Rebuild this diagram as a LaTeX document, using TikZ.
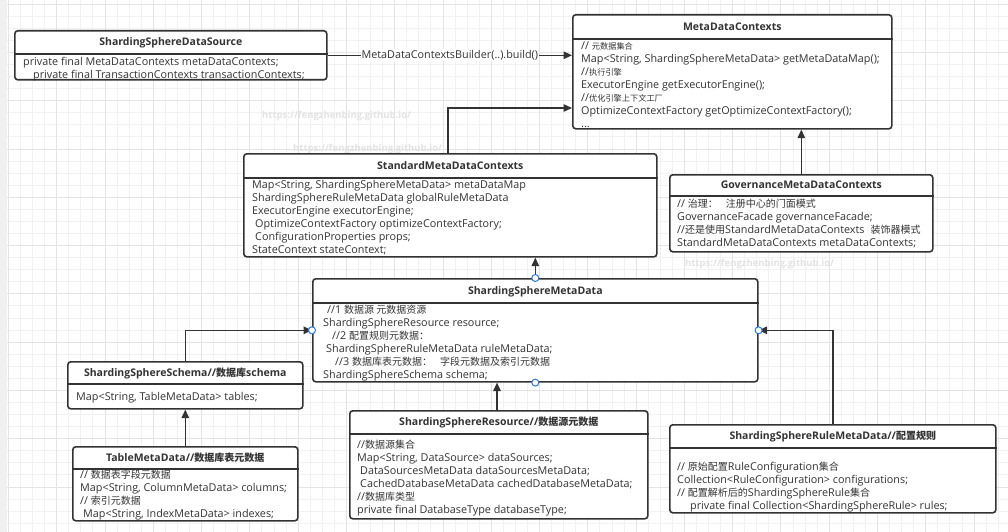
\documentclass[tikz,border=0pt]{standalone}
\usepackage{fontspec}
\setmainfont{Open Sans}
\newfontfamily\cjkf{Noto Sans CJK SC}
\usetikzlibrary{arrows.meta,calc}
\definecolor{ink}{HTML}{333333}
\definecolor{hblue}{HTML}{2979E6}
\definecolor{gminor}{HTML}{F1F1F1}
\definecolor{gmajor}{HTML}{E4E4E4}
\newcommand\zh[1]{{\cjkf\fontsize{10pt}{13pt}\selectfont #1}}
\newcommand\zhs[1]{{\cjkf\fontsize{8.2pt}{13pt}\selectfont #1}}
\newcommand\bodyf{\fontsize{10.8pt}{13pt}\selectfont}
\newcommand\titlef{\fontsize{10.5pt}{13pt}\selectfont\bfseries}
\tikzset{
 umlbox/.style={draw=ink, line width=1.6pt, rounded corners=3pt, fill=white, inner sep=0pt, anchor=north west},
 sepline/.style={draw=ink, line width=1.4pt},
 titletext/.style={font=\titlef, text=ink, inner sep=0pt, text height=7.5pt, text depth=0pt},
 bodytext/.style={font=\bodyf, text=ink, inner sep=0pt, align=left, anchor=north west},
 conn/.style={draw=ink, line width=1.4pt, -{Triangle[length=8.5pt,width=7.5pt]}},
 handle/.style={circle, draw=hblue, fill=white, line width=1pt, minimum size=7pt, inner sep=0pt},
 wmark/.style={font=\fontsize{9.5pt}{11pt}\selectfont\bfseries, text=gray!22, inner sep=0pt, anchor=west},
 elabel/.style={font=\bodyf, text=ink, fill=white, inner sep=1pt},
}
% name, x, y, w, h, header height, body top-left, title, body
\newcommand\umlbox[9]{%
 \node[umlbox, minimum width=#4pt, minimum height=#5pt] (#1) at (#2,#3) {};
 \draw[sepline] ($(#1.north west)+(0,#6)$) -- ($(#1.north east)+(0,#6)$);
 \node[titletext] (#1-title) at ($(#1.north)+(0,#6/2)$) {#8};
 \node[bodytext] (#1-body) at (#7) {\strut #9};
}
\begin{document}
\begin{tikzpicture}[x=1pt,y=-1pt]
\useasboundingbox (0,0) rectangle (1008,532);
\fill[white] (0,0) rectangle (1008,532);
% grid
\foreach \k in {0,...,83} \draw[gminor, line width=0.6pt] ({8.3+12.07*\k},0) -- ({8.3+12.07*\k},532);
\foreach \k in {0,...,44} \draw[gminor, line width=0.6pt] (0,{4+12.07*\k}) -- (1008,{4+12.07*\k});
\foreach \k in {0,...,20} \draw[gmajor, line width=0.6pt] ({8.3+48.28*\k},0) -- ({8.3+48.28*\k},532);
\foreach \k in {0,...,11} \draw[gmajor, line width=0.6pt] (0,{4+48.28*\k}) -- (1008,{4+48.28*\k});
\fill[gray!12] (0,0) rectangle (7,532);
% watermarks
\node[wmark] (w1) at (262,116) {https://fengzhenbing.github.io/};
\node[wmark] (w2) at (293,149) {https://fengzhenbing.github.io/};
\node[wmark] (w3) at (685,264) {https://fengzhenbing.github.io/};
% boxes
\umlbox{ds}{14}{30}{312}{49}{24}{23,56}{ShardingSphereDataSource}{%
private final MetaDataContexts metaDataContexts;\\
\hspace*{10pt}private final TransactionContexts transactionContexts;}
\umlbox{mdc}{572}{14}{319}{114}{25}{581,39.8}{MetaDataContexts}{%
// \zhs{元数据集合}\\
Map<String, ShardingSphereMetaData> getMetaDataMap();\\
//\zhs{执行引擎}\\
ExecutorEngine getExecutorEngine();\\
//\zhs{优化引擎上下文工厂}\\
OptimizeContextFactory getOptimizeContextFactory();\\
...}
\umlbox{std}{243}{153}{413}{103}{25}{252,179.6}{StandardMetaDataContexts}{%
Map<String, ShardingSphereMetaData> metaDataMap\\
ShardingSphereRuleMetaData globalRuleMetaData\\
ExecutorEngine executorEngine;\\
\hspace*{3pt}OptimizeContextFactory optimizeContextFactory;\\
\hspace*{3pt}ConfigurationProperties props;\\
StateContext stateContext;}
\umlbox{gov}{669}{174}{263}{77}{22}{677,198.6}{GovernanceMetaDataContexts}{%
// \zh{治理：\hspace{8pt}注册中心的门面模式}\\
GovernanceFacade governanceFacade;\\
//\zh{还是使用}StandardMetaDataContexts\hspace{6pt}\zh{装饰器模式}\\
StandardMetaDataContexts metaDataContexts;}
\umlbox{ssm}{312}{278}{445}{103}{25}{323,304.6}{ShardingSphereMetaData}{%
\hspace*{4pt}//1 \zh{数据源 元数据资源}\\
ShardingSphereResource resource;\\
\hspace*{9pt}//2 \zh{配置规则元数据：}\\
\hspace*{3pt}ShardingSphereRuleMetaData ruleMetaData;\\
\hspace*{12pt}//3 \zh{数据库表元数据：\hspace{8pt}字段元数据及索引元数据}\\
ShardingSphereSchema schema;}
\umlbox{sch}{67}{361}{235}{47}{23}{76,391}{ShardingSphereSchema//\zh{数据库}schema}{%
Map<String, TableMetaData> tables;}
\umlbox{tbl}{72}{446}{225}{74}{23}{80,469}{TableMetaData//\zh{数据库表元数据}}{%
// \zh{数据表字段元数据}\\
Map<String, ColumnMetaData> columns;\\
// \zh{索引元数据}\\
\hspace*{3pt}Map<String, IndexMetaData> indexes;}
\umlbox{res}{349}{410}{298}{108}{24}{357,439.6}{ShardingSphereResource//\zh{数据源元数据}}{%
//\zh{数据源集合}\\
Map<String, DataSource> dataSources;\\
\hspace*{3pt}DataSourcesMetaData dataSourcesMetaData;\\
\hspace*{3pt}CachedDatabaseMetaData cachedDatabaseMetaData;\\
//\zh{数据库类型}\\
private final DatabaseType databaseType;}
\umlbox{rule}{669}{424}{326}{88}{24}{677,461.6}{ShardingSphereRuleMetaData//\zh{配置规则}}{%
// \zh{原始配置}RuleConfiguration\zh{集合}\\
Collection<RuleConfiguration> configurations;\\
// \zh{配置解析后的}ShardingSphereRule\zh{集合}\\
\hspace*{13pt}private final Collection<ShardingSphereRule> rules;}
% connectors
\coordinate (stdtop) at ($(std.north west)+(205,0)$);
\coordinate (mdcin) at ($(mdc.north west)+(0,94)$);
\coordinate (restop) at ($(res.north west)+(148,0)$);
\draw[conn] (ds.east) -- node[elabel] (lbl) {MetaDataContextsBuilder(..).build()} (ds.east -| mdc.west);
\draw[conn] (stdtop) |- (mdcin);
\draw[conn] (gov.north) -- (gov.north |- mdc.south);
\draw[conn] (ssm.north) -- (ssm.north |- std.south);
\draw[conn] (sch.north) |- (ssm.west);
\draw[conn] (tbl.north) -- (sch.south);
\draw[conn] (restop) -- (restop |- ssm.south);
\draw[conn] (rule.north) |- (ssm.east);
% selection handles
\node[handle] (h1) at (ssm.north) {};
\node[handle] (h2) at (ssm.south) {};
\node[handle] (h3) at (ssm.west) {};
\node[handle] (h4) at (ssm.east) {};
\end{tikzpicture}
\end{document}
